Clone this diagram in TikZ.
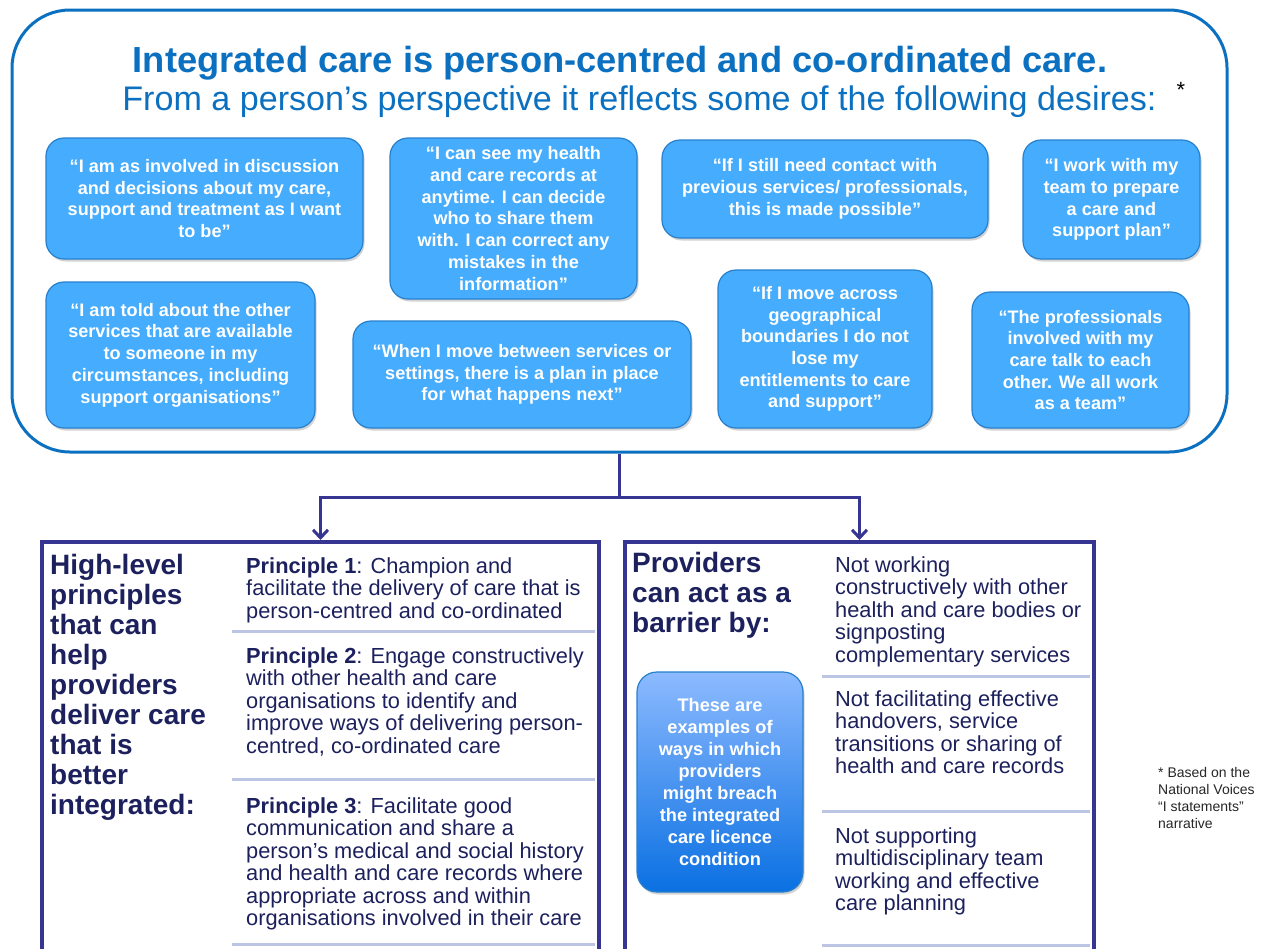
\documentclass[tikz,border=0pt]{standalone}
\usepackage{fontspec}
\setmainfont{Liberation Sans}
\usepackage{tikz}
\usetikzlibrary{arrows.meta,shadows}
\definecolor{careblue}{RGB}{12,112,192}
\definecolor{wishfill}{RGB}{70,172,253}
\definecolor{wishline}{RGB}{40,128,204}
\definecolor{barpurple}{RGB}{55,53,146}
\definecolor{inkblue}{RGB}{28,32,92}
\definecolor{rulegrey}{RGB}{188,198,228}
\definecolor{notetop}{RGB}{140,186,255}
\definecolor{notebottom}{RGB}{10,112,226}
\tikzset{font=\fontsize{18}{21.7}\selectfont}
\tikzset{
  wish/.style={draw=wishline, line width=1.2pt, fill=wishfill, rounded corners=18pt,
    text=white, font=\fontsize{18.1}{21.7}\selectfont\bfseries, align=center,
    drop shadow={shadow xshift=1.5pt, shadow yshift=-2.5pt, opacity=0.35}},
  panel/.style={draw=barpurple, line width=4pt, anchor=north west, inner sep=0pt},
  link/.style={draw=barpurple, line width=3pt},
  heading/.style={anchor=north west, inner sep=0pt, align=left, text=inkblue,
    font=\fontsize{28}{30}\selectfont\bfseries},
  listtext/.style={anchor=north west, inner sep=0pt, align=left, text=inkblue,
    font=\fontsize{21.8}{22.5}\selectfont},
  divider/.style={rulegrey, line width=3pt}
}

\begin{document}
\begin{tikzpicture}[x=1pt,y=-1pt]
  \useasboundingbox (0,0) rectangle (1272,948);
  \clip (0,0) rectangle (1272,948);

  % what a person wants
  \node[draw=careblue, line width=3pt, rounded corners=58pt,
    minimum width=1215pt, minimum height=442pt] (desires) at (619.5,231) {};
  \node[text=careblue, font=\fontsize{36.3}{40}\selectfont\bfseries] (title)
    at (620,63) {Integrated care is person-centred and co-ordinated care.};
  \node[text=careblue, font=\fontsize{34.1}{38}\selectfont] (subtitle)
    at (639.5,102) {From a person’s perspective it reflects some of the following desires:};
  \node[font=\fontsize{22}{26}\selectfont] (star) at (1181,90) {*};

  \node[wish, minimum width=317pt, minimum height=121pt] (w1) at (204.5,198.5)
    {“I am as involved in discussion\\and decisions about my care,\\support and treatment as I want\\to be”};
  \node[wish, minimum width=247pt, minimum height=161pt] (w2) at (513.5,218.5)
    {“I can see my health\\and care records at\\anytime. I can decide\\who to share them\\with. I can correct any\\mistakes in the\\information”};
  \node[wish, minimum width=326pt, minimum height=98pt] (w3) at (825,189)
    {“If I still need contact with\\previous services/ professionals,\\this is made possible”};
  \node[wish, minimum width=177pt, minimum height=119pt] (w4) at (1111.5,199.5)
    {“I work with my\\team to prepare\\a care and\\support plan”};
  \node[wish, minimum width=269pt, minimum height=146pt] (w5) at (180.5,355)
    {“I am told about the other\\services that are available\\to someone in my\\circumstances, including\\support organisations”};
  \node[wish, minimum width=338pt, minimum height=107pt] (w6) at (522,374.5)
    {“When I move between services or\\settings, there is a plan in place\\for what happens next”};
  \node[wish, minimum width=214pt, minimum height=158pt] (w7) at (825,349)
    {“If I move across\\geographical\\boundaries I do not\\lose my\\entitlements to care\\and support”};
  \node[wish, minimum width=217pt, minimum height=136pt] (w8) at (1080.5,360)
    {“The professionals\\involved with my\\care talk to each\\other. We all work\\as a team”};

  % the two panels below
  \node[panel, minimum width=557pt, minimum height=430pt] (principles) at (40,540) {};
  \node[panel, minimum width=469pt, minimum height=430pt] (barriers) at (623,540) {};

  \coordinate (fork) at (619.5,497);
  \draw[link] (desires.south) -- (fork);
  \draw[link,-{Straight Barb[length=8pt,width=15pt]}] (fork) -| (principles.north);
  \draw[link,-{Straight Barb[length=8pt,width=15pt]}] (fork) -| (barriers.north);

  \draw[divider] (232,631) -- (595,631);
  \draw[divider] (232,779) -- (595,779);
  \draw[divider] (232,944) -- (595,944);
  \draw[divider] (822,676) -- (1090,676);
  \draw[divider] (822,811) -- (1090,811);
  \draw[divider] (822,945) -- (1090,945);

  \node[heading] (why) at (50,554)
    {High-level\\principles\\that can\\help\\providers\\deliver care\\that is\\better\\integrated:};
  \node[listtext] (p1) at (246,557)
    {\textbf{Principle 1}: Champion and\\facilitate the delivery of care that is\\person-centred and co-ordinated};
  \node[listtext] (p2) at (246,647)
    {\textbf{Principle 2}: Engage constructively\\with other health and care\\organisations to identify and\\improve ways of delivering person-\\centred, co-ordinated care};
  \node[listtext] (p3) at (246,797)
    {\textbf{Principle 3}: Facilitate good\\communication and share a\\person’s medical and social history\\and health and care records where\\appropriate across and within\\organisations involved in their care};

  \node[heading] (how) at (632,552) {Providers\\can act as a\\barrier by:};
  \node[listtext] (b1) at (835,556)
    {Not working\\constructively with other\\health and care bodies or\\signposting\\complementary services};
  \node[listtext] (b2) at (835,690)
    {Not facilitating effective\\handovers, service\\transitions or sharing of\\health and care records};
  \node[listtext] (b3) at (835,827)
    {Not supporting\\multidisciplinary team\\working and effective\\care planning};

  \node[draw=wishline, line width=1.2pt, rounded corners=20pt, top color=notetop,
    bottom color=notebottom, minimum width=166pt, minimum height=220pt,
    text=white, align=center, font=\fontsize{18.2}{22}\selectfont\bfseries,
    drop shadow={shadow xshift=1.5pt, shadow yshift=-2.5pt, opacity=0.35}] (note)
    at (720,782) {These are\\examples of\\ways in which\\providers\\might breach\\the integrated\\care licence\\condition};

  \node[anchor=north west, inner sep=0pt, align=left, text=black!85,
    font=\fontsize{14}{17}\selectfont] (source) at (1158,767)
    {* Based on the\\National Voices\\“I statements”\\narrative};
\end{tikzpicture}
\end{document}
